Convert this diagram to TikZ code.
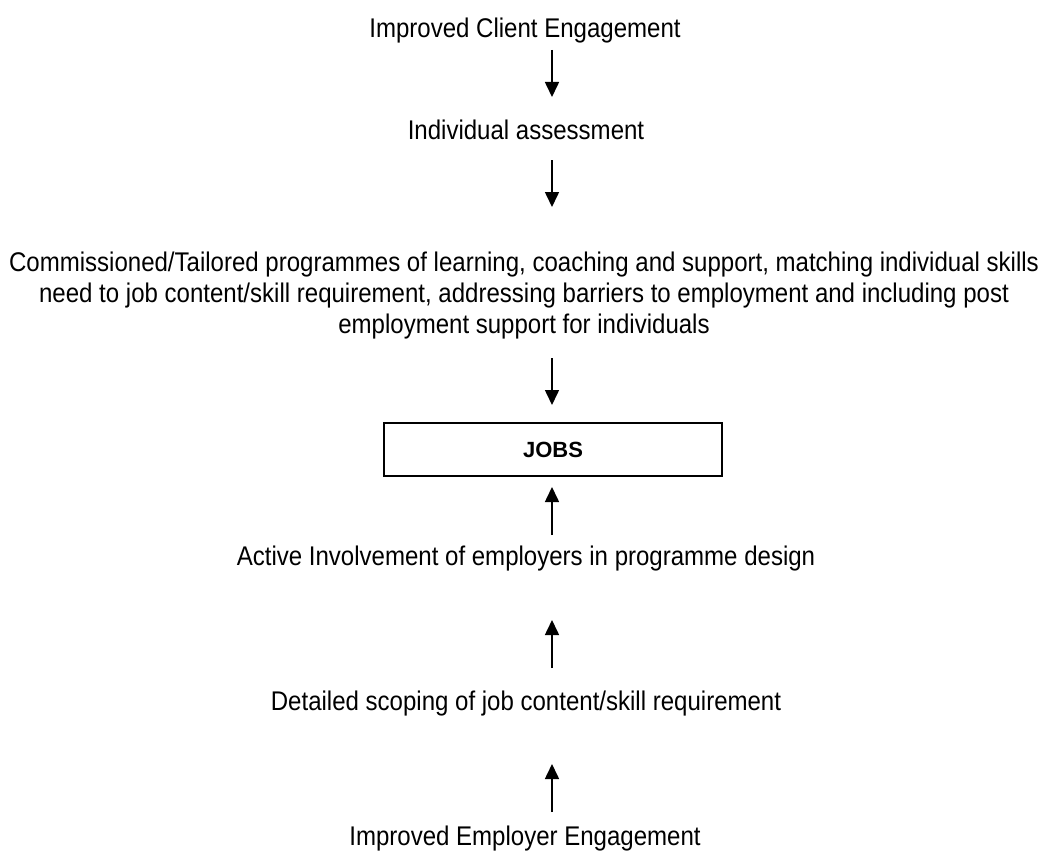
\documentclass[tikz,border=0pt]{standalone}
\usepackage{fontspec}
\setmainfont{Liberation Sans}
\newfontfamily\narrowfont[FakeStretch=0.89]{Liberation Sans}
\usetikzlibrary{arrows.meta}
\begin{document}
\begin{tikzpicture}[x=1pt,y=-1pt,
  lbl/.style={font=\narrowfont\fontsize{27}{31}\selectfont, inner sep=0pt, anchor=base, align=center},
  arr/.style={line width=1.6pt, -{Triangle[length=15pt,width=14pt]}},
  jobsbox/.style={draw, line width=1.8pt, minimum width=338pt, minimum height=53pt, inner sep=0pt, font=\bfseries\fontsize{22}{26}\selectfont}]
\useasboundingbox (0,0) rectangle (1047,851);
\node[lbl] (t1) at (525,38) {Improved Client Engagement};
\node[lbl] (t2) at (526,139) {Individual assessment};
\node[lbl, anchor=north] (t3) at (524,252) {Commissioned/Tailored programmes of learning, coaching and support, matching individual skills\\need to job content/skill requirement, addressing barriers to employment and including post\\employment support for individuals};
\node[jobsbox] (jobs) at (553,449.5) {JOBS};
\node[lbl] (t4) at (526,565) {Active Involvement of employers in programme design};
\node[lbl] (t5) at (526,710) {Detailed scoping of job content/skill requirement};
\node[lbl] (t6) at (525,845) {Improved Employer Engagement};
\coordinate (a1s) at (552,50);  \coordinate (a1e) at (552,97);
\coordinate (a2s) at (552,160); \coordinate (a2e) at (552,207);
\coordinate (a3s) at (552,358); \coordinate (a3e) at (552,405);
\coordinate (a4s) at (552,535); \coordinate (a4e) at (552,487);
\coordinate (a5s) at (552,668); \coordinate (a5e) at (552,620);
\coordinate (a6s) at (552,812); \coordinate (a6e) at (552,764);
\draw[arr] (a1s) -- (a1e);
\draw[arr] (a2s) -- (a2e);
\draw[arr] (a3s) -- (a3e);
\draw[arr] (a4s) -- (a4e);
\draw[arr] (a5s) -- (a5e);
\draw[arr] (a6s) -- (a6e);
\end{tikzpicture}
\end{document}
